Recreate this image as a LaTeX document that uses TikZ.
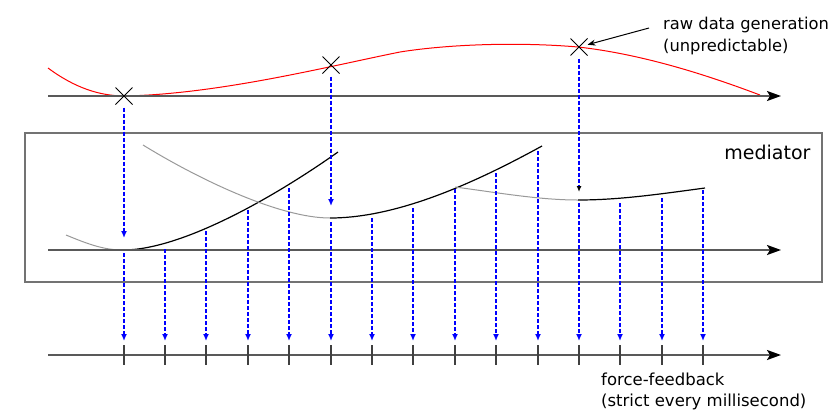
\documentclass[tikz,border=0pt]{standalone}
\usepackage{fontspec}
\setmainfont{DejaVu Sans}
\usetikzlibrary{positioning,calc,arrows.meta,shapes.misc}

\tikzset{
	timeline/.style={draw=black!65, line width=2bp, -{Stealth[black,length=14bp,width=10bp,inset=3bp]}},
	feed/.style={draw=blue, line width=1.8bp, dash pattern=on 4bp off 2bp, -{Latex[length=7bp,width=6bp]}},
	sample/.style={cross out, draw=black, line width=1bp, minimum size=16bp, inner sep=0pt},
	past/.style={draw=black!40, line width=1bp},
	ahead/.style={draw=black, line width=1.2bp},
	tickmark/.style={draw=black!75, line width=1.5bp},
	lbl/.style={align=left, inner sep=0pt}
}

\begin{document}
\begin{tikzpicture}[x=1bp,y=-1bp]
		\useasboundingbox (0,0) rectangle (831,414);
		
		\node[draw=black!55, line width=1.3bp, minimum width=797bp, minimum height=149bp] (box) at (423.5,207.5) {};
		\node[font=\fontsize{19bp}{23bp}\selectfont, inner sep=0pt, anchor=north east] (med) at ($(box.north east)+(-12,13)$) {mediator};
		
		\coordinate (a1s) at (48,96);
		\coordinate (a1e) at (781,96);
		\coordinate (a2s) at (48,250);
		\coordinate (a2e) at (781,250);
		\coordinate (a3s) at (48,355);
		\coordinate (a3e) at (781,355);
		
		\draw[red, line width=1bp] (48,68) .. controls (75,88) and (100,96) .. (125,96) .. controls (220,94) and (330,66) .. (400,52) .. controls (450,44) and (520,42) .. (578,47) .. controls (650,55) and (720,80) .. (760,95);
		\draw[timeline] (a1s)--(a1e);
		
		\node[sample] (x1) at (124,96) {};
		\node[sample] (x2) at (331,65) {};
		\node[sample] (x3) at (579,47) {};
		
		\node[lbl, font=\fontsize{16.3bp}{21.5bp}\selectfont, anchor=west] (raw) at (663,36) {raw data generation\\(unpredictable)};
		\coordinate (rawtail) at (649,28);
		\draw[-{Stealth[length=8bp,width=6bp]}, line width=1bp] (rawtail)--(x3);
		
		\draw[past] (66,235) .. controls (90,245) and (105,250) .. (123,250);
		\draw[ahead] (123,250) .. controls (180,250) and (270,200) .. (338,152);
		\draw[past] (143,145) .. controls (200,180) and (280,218) .. (330,218);
		\draw[ahead] (330,218) .. controls (400,218) and (480,180) .. (542,146);
		\draw[past] (455,187) .. controls (500,193) and (540,200) .. (578,200);
		\draw[ahead] (578,200) .. controls (620,200) and (660,194) .. (705,188);
		\draw[timeline] (a2s)--(a2e);
		
		\coordinate (s1) at (124,238);
		\coordinate (s2) at (331,206);
		\coordinate (s3) at (579,192);
		\draw[feed, shorten <=3bp] (x1)--(s1);
		\draw[feed, shorten <=3bp] (x2)--(s2);
		\draw[feed, shorten <=3bp, -{Latex[black,length=6bp,width=5bp]}] (x3)--(s3);
		
		\draw[timeline] (a3s)--(a3e);
		\foreach \i/\h in {0/253,1/249,2/231,3/210,4/188,5/222,6/218,7/208,8/189,9/173,10/151,11/203,12/203,13/198,14/190} {
			\pgfmathsetmacro{\tx}{int(124.2+41.4*\i)}
			\coordinate (c\i) at (\tx,\h);
			\coordinate (t\i) at (\tx,345);
			\draw[tickmark] (t\i)--++(0,20);
			\draw[feed, shorten >=4bp] (c\i)--(t\i);
		}
		
		\node[lbl, font=\fontsize{16.5bp}{21bp}\selectfont, anchor=north west] (ff) at (601,373) {force-feedback\\(strict every millisecond)};
	\end{tikzpicture}
\end{document}
